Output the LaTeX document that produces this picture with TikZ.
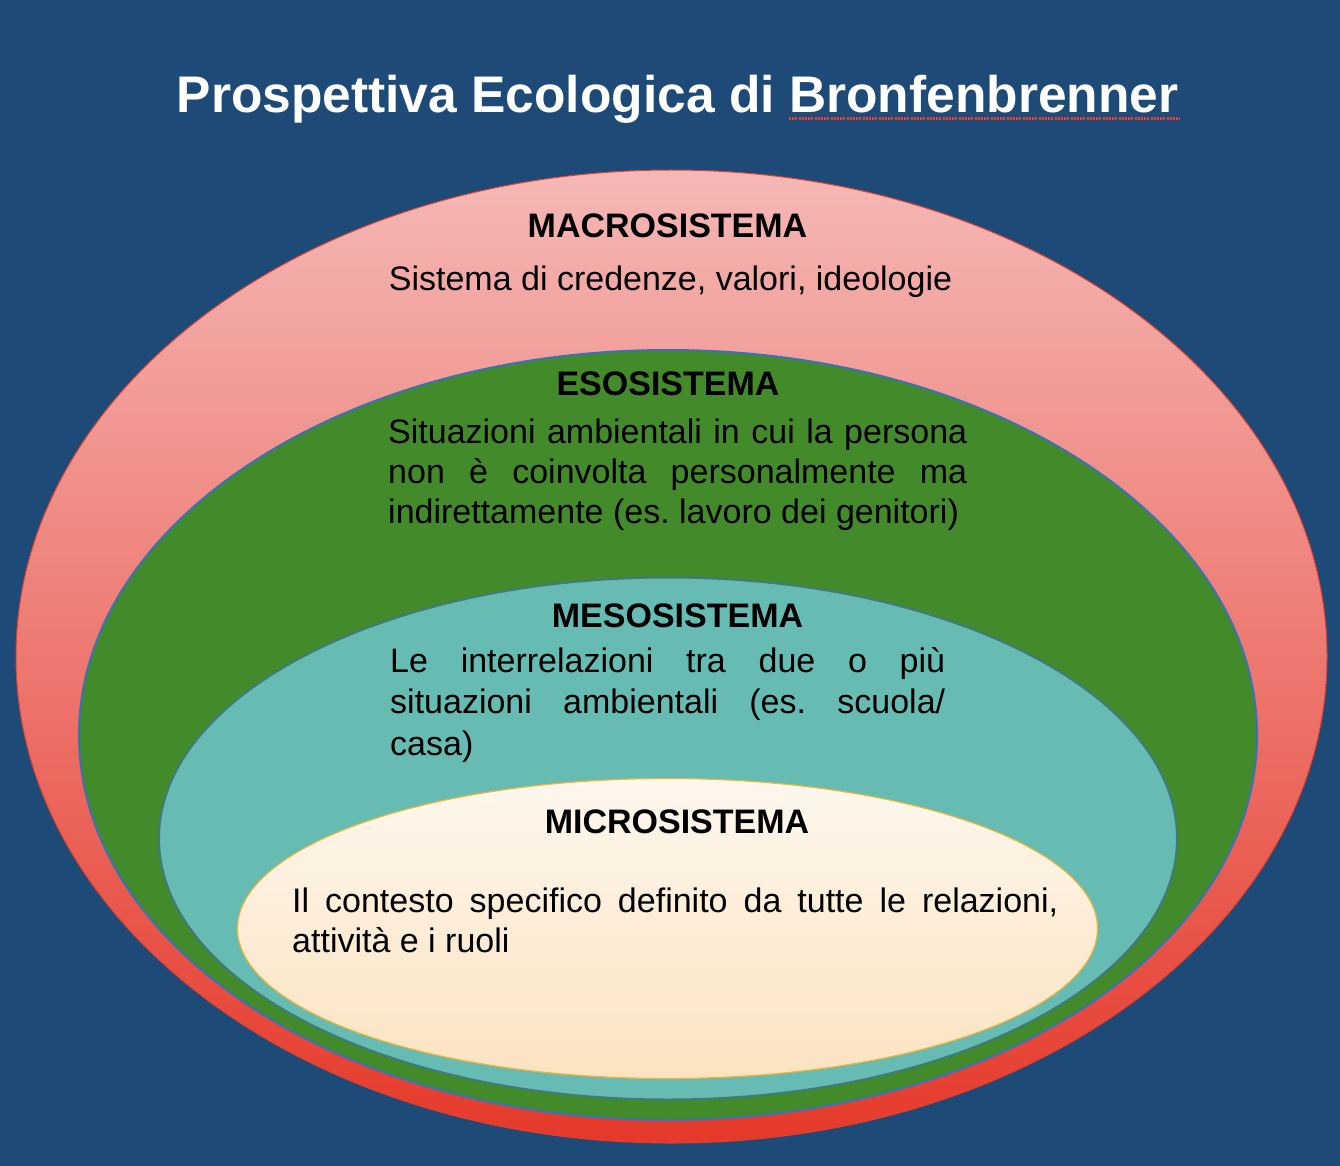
\documentclass[tikz,border=0pt]{standalone}
\usepackage{fontspec}
\setmainfont{Liberation Sans}
\usepackage{tikz}
\usetikzlibrary{positioning}
\pretolerance=10000
\tolerance=10000
\frenchspacing

\definecolor{sfondo}{HTML}{1E4A77}
\definecolor{macrotop}{HTML}{F5B8B6}
\definecolor{macrobot}{HTML}{E5392A}
\definecolor{macrobordo}{HTML}{E2402E}
\definecolor{esoverde}{HTML}{438A2A}
\definecolor{esobordo}{HTML}{3A72B5}
\definecolor{mesoteal}{HTML}{66BBB3}
\definecolor{mesobordo}{HTML}{3F7A7C}
\definecolor{microtop}{HTML}{FEF7EE}
\definecolor{microbot}{HTML}{FBE3C0}
\definecolor{microbordo}{HTML}{EDB63A}
\definecolor{sottolinea}{HTML}{F0402A}

\tikzset{
    livello/.style={font=\bfseries\fontsize{34}{41}\selectfont, anchor=base, inner sep=0pt},
    testo/.style={font=\fontsize{34}{#1}\selectfont, anchor=base west, inner sep=0pt, align=justify},
    testo/.default=40
}

\begin{document}
\begin{tikzpicture}[x=1pt,y=-1pt]
            \fill[sfondo] (0,0) rectangle (1340,1166);
            \useasboundingbox (0,0) rectangle (1340,1166);

            \node[font=\bfseries\fontsize{51.5}{60}\selectfont, text=white, anchor=base, inner sep=0pt]
                (titolo) at (677.5,113) {Prospettiva Ecologica di Bronfenbrenner};
            \draw[sottolinea, line width=2.6pt, dash pattern=on 2pt off 1.2pt] (789,118.5) -- (1180,118.5);

            \shade[top color=macrotop, bottom color=macrobot,
                draw=macrobordo, line width=1pt] (671.5,656.5) circle [x radius=655.5pt, y radius=486.5pt];
            \filldraw[fill=esoverde, draw=esobordo, line width=2pt] (668,735) circle [x radius=589pt, y radius=385pt];
            \filldraw[fill=mesoteal, draw=mesobordo, line width=2pt] (668,838.5) circle [x radius=509pt, y radius=261pt];
            \shade[top color=microtop, bottom color=microbot,
                draw=microbordo, line width=1.2pt] (667.5,928.5) circle [x radius=430pt, y radius=150pt];

            \node[livello] (macrotit) at (667.5,238) {MACROSISTEMA};
            \node[font=\fontsize{34}{40}\selectfont, anchor=base, inner sep=0pt]
                (macrotesto) at (670.5,290) {Sistema di credenze, valori, ideologie};

            \node[livello] (esotit) at (668,395) {ESOSISTEMA};
            \node[testo, text width=579pt] (esotesto) at (388,443)
                {Situazioni ambientali in cui la persona\linebreak non è coinvolta personalmente ma\linebreak indirettamente (es. lavoro dei genitori)};

            \node[livello] (mesotit) at (677.5,627) {MESOSISTEMA};
            \node[testo=41.5, text width=555pt] (mesotesto) at (390,672)
                {Le interrelazioni tra due o più\linebreak situazioni ambientali (es. scuola/\linebreak casa)};

            \node[livello] (microtit) at (677,833) {MICROSISTEMA};
            \node[testo, text width=766pt] (microtesto) at (292,912)
                {Il contesto specifico definito da tutte le relazioni,\linebreak attività e i ruoli};
\end{tikzpicture}
\end{document}
